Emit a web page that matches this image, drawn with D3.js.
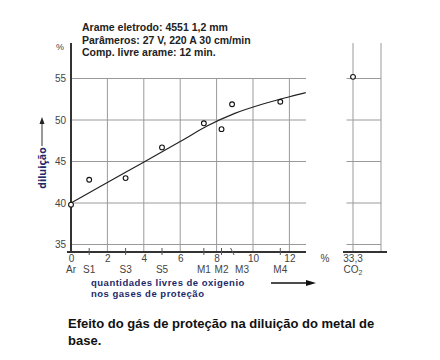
<!DOCTYPE html>
<html><head><meta charset="utf-8">
<script src="https://cdn.jsdelivr.net/npm/d3@7"></script>
<style>html,body{margin:0;padding:0;background:#fff}</style>
</head><body>
<script>
// ---- data ----
const categories = ["Ar","S1","S3","S5","M1","M2","M3","M4"];
const oxygen = [0, 1, 3, 5, 7.3, 8.27, 8.85, 11.5];
const dilution = [39.8, 42.8, 43.0, 46.7, 49.6, 48.9, 51.9, 52.2];
const fitX = [0, 3, 6, 7.5, 9, 10.5, 12, 12.9];
const fitY = [40.0, 43.7, 47.4, 49.3, 50.8, 51.9, 52.8, 53.3];
const xTicks = [0, 2, 4, 6, 8, 10, 12];
const yTicks = [35, 40, 45, 50, 55];
const co2Label = "33,3";
const co2Dilution = [55.2];
const headerLines = ["Arame eletrodo: 4551 1,2 mm", "Parâmeros: 27 V, 220 A 30 cm/min", "Comp. livre arame: 12 min."];
const xTitle = ["quantidades livres de oxigenio", "nos gases de proteção"];
const yTitle = "diluição";
const caption = ["Efeito do gás de proteção na diluição do metal de", "base."];

const W = 440, H = 360;
const svg = d3.select("body").append("svg").attr("width", W).attr("height", H)
  .style("font-family", "Liberation Sans, Arial, sans-serif");

const x = d3.scaleLinear().domain([0, 12]).range([71, 289.4]);
const y = d3.scaleLinear().domain([35, 55]).range([244.5, 78.5]);
const axisY = 252, axisTop = 43;
const gridRight = 306;
const panelX = 353, panelRight = 381;

const grid = "#9a9a9a", dark = "#333", tickCol = "#444";

// horizontal gridlines main
svg.append("g").selectAll("line").data(yTicks).join("line")
  .attr("x1", x(0)).attr("x2", gridRight)
  .attr("y1", d => y(d)).attr("y2", d => y(d))
  .attr("stroke", grid).attr("stroke-width", 1);
// vertical gridlines main
svg.append("g").selectAll("line").data(xTicks.filter(d => d > 0)).join("line")
  .attr("x1", d => x(d)).attr("x2", d => x(d))
  .attr("y1", y(55)).attr("y2", axisY)
  .attr("stroke", grid).attr("stroke-width", 1);

// axes main
svg.append("line").attr("x1", x(0)).attr("x2", x(0)).attr("y1", axisTop).attr("y2", axisY + 1)
  .attr("stroke", dark).attr("stroke-width", 2);
svg.append("line").attr("x1", x(0) - 4).attr("x2", gridRight).attr("y1", axisY).attr("y2", axisY)
  .attr("stroke", dark).attr("stroke-width", 2);

// y tick labels
svg.append("g").selectAll("text").data(yTicks).join("text")
  .attr("x", 66).attr("y", d => y(d)).attr("dy", "0.35em")
  .attr("text-anchor", "end").attr("font-size", 10).attr("fill", tickCol).text(d => d);
svg.append("text").attr("x", 60).attr("y", 47).attr("dy", "0.35em").attr("text-anchor", "middle")
  .attr("font-size", 9).attr("fill", tickCol).text("%");

// x tick labels
svg.append("g").selectAll("text").data(xTicks).join("text")
  .attr("x", d => x(d) + 0.5).attr("y", 258.5).attr("dy", "0.35em")
  .attr("text-anchor", "middle").attr("font-size", 10).attr("fill", tickCol).text(d => d);
svg.append("text").attr("x", 325).attr("y", 258.5).attr("dy", "0.35em").attr("text-anchor", "middle")
  .attr("font-size", 10).attr("fill", tickCol).text("%");

// category ticks + labels
const catG = svg.append("g");
categories.forEach((c, i) => {
  const px = x(oxygen[i]);
  const prev = i > 0 ? x(oxygen[i - 1]) : -100;
  const slant = px - prev < 12;
  if (i > 0) {
    catG.append("line").attr("x1", px - (slant ? 1.5 : 0)).attr("x2", px + (slant ? 2 : 0))
      .attr("y1", 248).attr("y2", 255).attr("stroke", "#555").attr("stroke-width", 1);
  }
  catG.append("text").attr("x", px + (slant ? 10 : 0)).attr("y", 269.5).attr("dy", "0.35em")
    .attr("text-anchor", "middle").attr("font-size", 10).attr("fill", tickCol).text(c);
});

// fitted curve
const line = d3.line().x(d => x(d[0])).y(d => y(d[1])).curve(d3.curveCatmullRom.alpha(0.5));
svg.append("path").datum(fitX.map((v, i) => [v, fitY[i]]))
  .attr("d", line).attr("fill", "none").attr("stroke", "#222").attr("stroke-width", 1.2);

// points
svg.append("g").selectAll("circle").data(categories.map((c, i) => [oxygen[i], dilution[i]])).join("circle")
  .attr("cx", d => x(d[0])).attr("cy", d => y(d[1])).attr("r", 2.4)
  .attr("fill", "#fff").attr("stroke", "#111").attr("stroke-width", 1.1);

// right panel (CO2)
svg.append("g").selectAll("line").data(yTicks).join("line")
  .attr("x1", 346.5).attr("x2", panelRight)
  .attr("y1", d => y(d)).attr("y2", d => y(d)).attr("stroke", grid).attr("stroke-width", 1);
[panelX, panelRight].forEach(px => {
  svg.append("line").attr("x1", px).attr("x2", px).attr("y1", axisTop).attr("y2", axisY)
    .attr("stroke", grid).attr("stroke-width", 1);
});
svg.append("line").attr("x1", 343).attr("x2", 387).attr("y1", axisY).attr("y2", axisY)
  .attr("stroke", dark).attr("stroke-width", 2);
svg.append("g").selectAll("circle").data(co2Dilution).join("circle")
  .attr("cx", panelX).attr("cy", d => y(d)).attr("r", 2.4)
  .attr("fill", "#fff").attr("stroke", "#111").attr("stroke-width", 1.1);
svg.append("text").attr("x", panelX).attr("y", 258.5).attr("dy", "0.35em").attr("text-anchor", "middle")
  .attr("font-size", 10).attr("fill", tickCol).text(co2Label);
const co2t = svg.append("text").attr("x", panelX).attr("y", 269.5).attr("dy", "0.35em").attr("text-anchor", "middle")
  .attr("font-size", 10).attr("fill", tickCol);
co2t.append("tspan").text("CO");
co2t.append("tspan").attr("font-size", 7).attr("dy", "0.35em").text("2");

// header
svg.append("g").selectAll("text").data(headerLines).join("text")
  .attr("x", 82).attr("y", (d, i) => 27.5 + i * 12.5).attr("dy", "0.35em")
  .attr("font-size", 10.5).attr("font-weight", "bold").attr("fill", "#222").text(d => d);

// y title with arrow
const navy = "#1c2a6b";
svg.append("text").attr("transform", "translate(42,168) rotate(-90)")
  .attr("text-anchor", "middle").attr("dy", "0.35em")
  .attr("font-family", "Open Sans, sans-serif").attr("font-weight", "bold")
  .attr("font-size", 10.5).attr("fill", navy).text(yTitle);
svg.append("line").attr("x1", 42).attr("x2", 42).attr("y1", 146).attr("y2", 123)
  .attr("stroke", "#333").attr("stroke-width", 1);
svg.append("path").attr("d", d3.line()([[39.5, 124], [42, 117], [44.5, 124]]) + "Z").attr("fill", "#222");

// x title
svg.append("g").selectAll("text").data(xTitle).join("text")
  .attr("x", 91).attr("y", (d, i) => 282.5 + i * 11.5).attr("dy", "0.35em")
  .attr("font-weight", "bold").attr("letter-spacing", 0.5)
  .attr("font-size", 9.5).attr("fill", navy).text(d => d);
svg.append("line").attr("x1", 271).attr("x2", 308).attr("y1", 283).attr("y2", 283)
  .attr("stroke", "#111").attr("stroke-width", 1.6);
svg.append("path").attr("d", d3.line()([[306, 280], [316, 283], [306, 286]]) + "Z").attr("fill", "#111");

// caption
svg.append("g").selectAll("text").data(caption).join("text")
  .attr("x", 68).attr("y", (d, i) => 323.5 + i * 16.5).attr("dy", "0.35em")
  .attr("font-size", 13).attr("font-weight", "bold").attr("fill", "#111").text(d => d);
</script>
</body></html>
